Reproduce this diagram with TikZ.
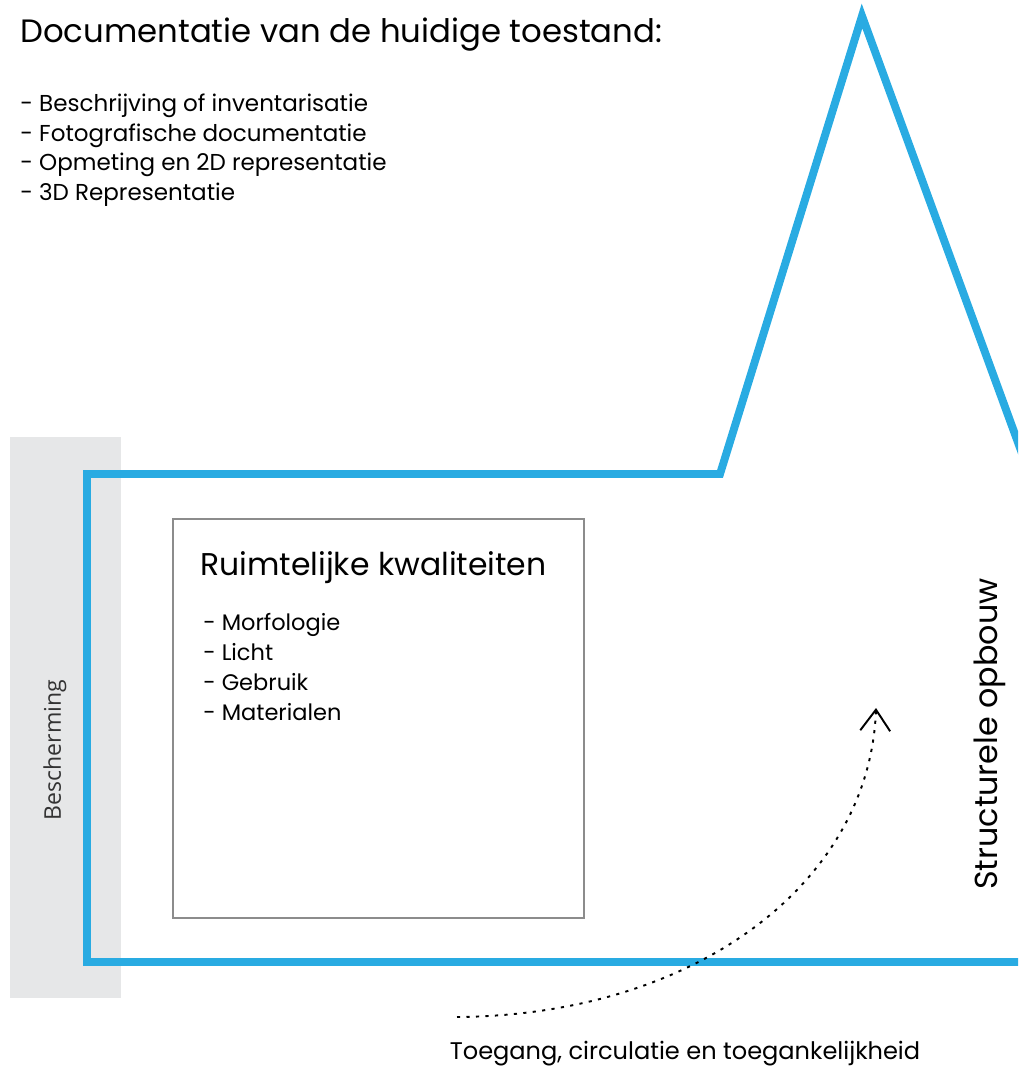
\documentclass[tikz,border=0pt]{standalone}
\usepackage{fontspec}
\setmainfont{Poppins}
\newfontfamily\labelfont{Open Sans}
\usetikzlibrary{arrows.meta,positioning}
\definecolor{gebouwblauw}{HTML}{29ABE2}
\definecolor{zone}{HTML}{E6E7E8}
\tikzset{
  gebouw/.style={draw=gebouwblauw, line width=4.5pt, line join=miter},
  kader/.style={draw=black!45, line width=0.7pt},
  lijst/.style={anchor=north west, align=left, inner sep=0pt},
  route/.style={line width=1.1pt, dash pattern=on 1.8pt off 3.6pt,
    -{Straight Barb[length=12pt, width=17pt, line width=1.1pt]}}
}
\begin{document}
\begin{tikzpicture}[x=0.02cm, y=-0.02cm]
  \useasboundingbox (0,0) rectangle (1018,1070);
  \clip (0,0) rectangle (1018,1070);

  % bescherming
  \fill [zone] (10,437) rectangle (121,998);
  \node [rotate=90, font=\labelfont\fontsize{13.1}{15}\selectfont, text=black!80] (besch) at (55,750) {Bescherming};

  % gebouw
  \coordinate (G1) at (87,962);
  \coordinate (G2) at (87,474);
  \coordinate (G3) at (720,474);
  \coordinate (top) at (862,16);
  \coordinate (G4) at (1208,962);
  \draw [gebouw] (G1) -- (G2) -- (G3) -- (top) -- (G4) -- cycle;

  % documentatie
  \node [anchor=west, inner sep=0pt, font=\fontsize{18.4}{22}\selectfont] (titel) at (20,35) {Documentatie van de huidige toestand:};
  \node [lijst, font=\fontsize{13.1}{16.8}\selectfont] (doc) at (20,94) {- Beschrijving of inventarisatie\\- Fotografische documentatie\\- Opmeting en 2D representatie\\- 3D Representatie};

  % ruimtelijke kwaliteiten
  \draw [kader] (173,519) rectangle (584,918);
  \node [anchor=west, inner sep=0pt, font=\fontsize{17.9}{21}\selectfont] (ruimte) at (200,568) {Ruimtelijke kwaliteiten};
  \node [lijst, font=\fontsize{12.8}{17}\selectfont] (kwal) at (203,613) {- Morfologie\\- Licht\\- Gebruik\\- Materialen};

  % structuur
  \node [rotate=90, font=\fontsize{18.1}{21}\selectfont] (struct) at (990,734) {Structurele opbouw};

  % toegang
  \coordinate (in) at (457,1017);
  \coordinate (uit) at (876,708);
  \draw [route] (in) .. controls (700,1015) and (870,880) .. (uit);
  \node [inner sep=0pt, font=\fontsize{13.7}{16}\selectfont] (toegang) at (685,1054) {Toegang, circulatie en toegankelijkheid};
\end{tikzpicture}
\end{document}
